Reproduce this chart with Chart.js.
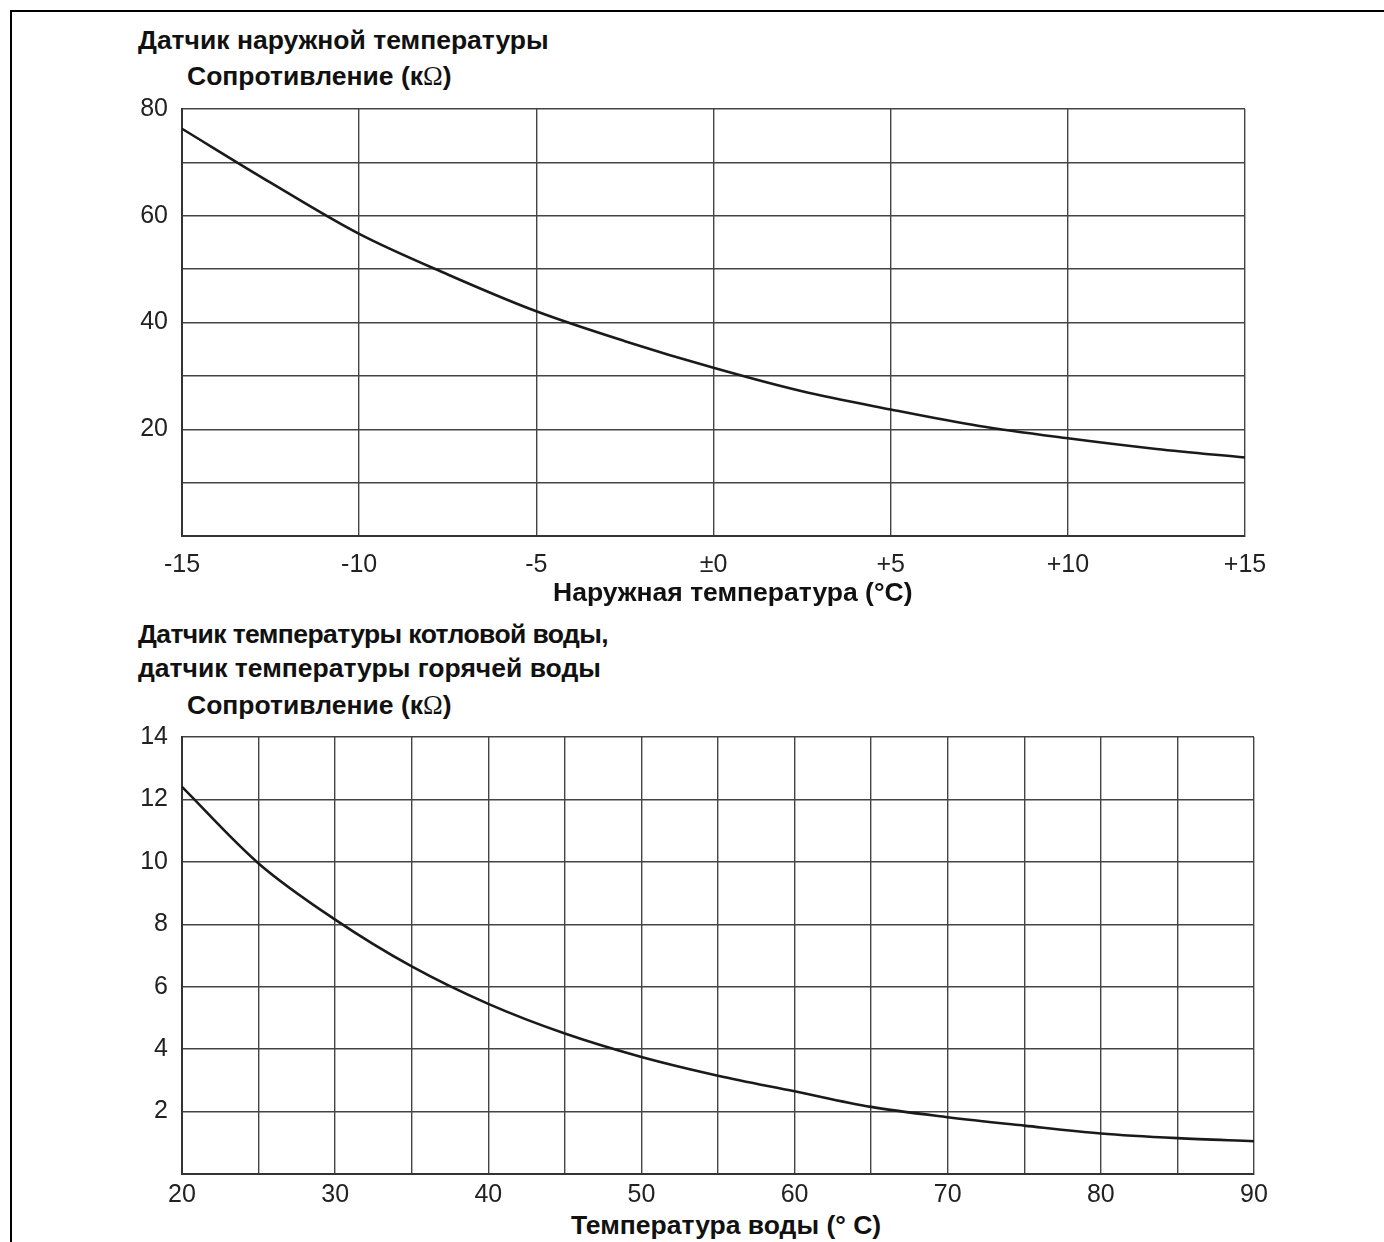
<!DOCTYPE html>
<html>
<head>
<meta charset="utf-8">
<script src="https://cdn.jsdelivr.net/npm/chart.js@4.4.0/dist/chart.umd.min.js"></script>
<style>
  html, body { margin: 0; padding: 0; background: #fff; }
  body { width: 1384px; height: 1242px; position: relative; overflow: hidden; font-family: "Liberation Sans", Arial, sans-serif; }
  .frame { position: absolute; left: 10px; top: 10px; right: -5px; bottom: -5px; border-left: 2px solid #000; border-top: 2px solid #000; }
  .t { position: absolute; white-space: nowrap; font-weight: bold; font-size: 26.5px; color: #111; line-height: 30px; }
  .om { font-family: "Liberation Serif", "Times New Roman", serif; font-weight: normal; }
  .box { position: absolute; left: 0; width: 1384px; }
</style>
</head>
<body>
<div class="frame"></div>
<div class="t" style="left:138px; top:25px;">Датчик наружной температуры</div>
<div class="t" style="left:187px; top:61px;">Сопротивление (к<span class="om">Ω</span>)</div>
<div class="box" style="top:80px; height:500px;"><canvas id="c1"></canvas></div>
<div class="t" style="left:553px; top:577px;">Наружная температура (°C)</div>

<div class="t" style="left:138px; top:619px; letter-spacing:-0.6px;">Датчик температуры котловой воды,</div>
<div class="t" style="left:138px; top:653px;">датчик температуры горячей воды</div>
<div class="t" style="left:187px; top:690px;">Сопротивление (к<span class="om">Ω</span>)</div>
<div class="box" style="top:708px; height:500px;"><canvas id="c2"></canvas></div>
<div class="t" style="left:571px; top:1210px;">Температура воды (° C)</div>

<script>
// ---- Data: outdoor temperature sensor ----
const outdoorTemps = [-15, -12.5, -10, -7.5, -5, -2.5, 0, 2.5, 5, 7.5, 10, 12.5, 15];
const outdoorRes   = [76.3, 66.2, 56.6, 49.0, 42.1, 36.5, 31.5, 27.1, 23.7, 20.6, 18.3, 16.3, 14.7];
const outdoorXTicks = [-15, -10, -5, 0, 5, 10, 15];
const outdoorXTickLabels = ['-15', '-10', '-5', '±0', '+5', '+10', '+15'];
const outdoorYTickLabels = [20, 40, 60, 80];

// ---- Data: boiler water / hot water sensor ----
const waterTemps = [20, 25, 30, 35, 40, 45, 50, 55, 60, 65, 70, 75, 80, 85, 90];
const waterRes   = [12.4, 9.95, 8.15, 6.65, 5.45, 4.5, 3.75, 3.15, 2.65, 2.15, 1.82, 1.55, 1.3, 1.15, 1.05];
const waterXTickLabels = [20, 30, 40, 50, 60, 70, 80, 90];
const waterYTickLabels = [2, 4, 6, 8, 10, 12, 14];

const FONT = "'Liberation Sans', Arial, sans-serif";
const GRID = '#444';

function makeChart(id, xs, ys, cfg) {
  const data = xs.map((x, i) => ({ x: x, y: ys[i] }));
  return new Chart(document.getElementById(id), {
    type: 'line',
    data: { datasets: [{ data: data, borderColor: '#1a1a1a', borderWidth: 2.6, pointRadius: 0, cubicInterpolationMode: 'monotone', fill: false, clip: false }] },
    options: {
      responsive: true, maintainAspectRatio: false, animation: false,
      layout: { padding: { top: cfg.padTop, right: cfg.padRight, bottom: 0, left: 0 } },
      plugins: { legend: { display: false }, tooltip: { enabled: false } },
      scales: {
        x: {
          type: 'linear', min: cfg.xMin, max: cfg.xMax,
          afterFit: s => { s.height = cfg.xAxisH; },
          afterBuildTicks: s => { const t = []; for (let v = cfg.xMin; v <= cfg.xMax + 1e-9; v += cfg.xStep) t.push({ value: v }); s.ticks = t; },
          grid: { color: GRID, lineWidth: 1.4, drawTicks: false },
          border: { color: '#333', width: 2 },
          ticks: { autoSkip: false, maxRotation: 0, padding: cfg.xTickPad, color: '#222', font: { family: FONT, size: 25 }, callback: cfg.xLabel }
        },
        y: {
          min: cfg.yMin, max: cfg.yMax,
          afterFit: s => { s.width = 182; },
          afterBuildTicks: s => { const t = []; for (let v = cfg.yMin; v <= cfg.yMax + 1e-9; v += cfg.yStep) t.push({ value: v }); s.ticks = t; },
          grid: { color: GRID, lineWidth: 1.4, drawTicks: false },
          border: { color: '#333', width: 2 },
          ticks: { autoSkip: false, padding: 14, color: '#222', font: { family: FONT, size: 25 }, callback: cfg.yLabel }
        }
      }
    }
  });
}

makeChart('c1', outdoorTemps, outdoorRes, {
  padTop: 19, padRight: 139, xAxisH: 44, xTickPad: 14,
  xMin: -15, xMax: 15, xStep: 5, yMin: 0, yMax: 80, yStep: 10,
  xLabel: v => { const i = outdoorXTicks.indexOf(v); return i >= 0 ? outdoorXTickLabels[i] : ''; },
  yLabel: v => outdoorYTickLabels.includes(v) ? String(v) : ''
});

makeChart('c2', waterTemps, waterRes, {
  padTop: 24, padRight: 130, xAxisH: 34, xTickPad: 6,
  xMin: 20, xMax: 90, xStep: 5, yMin: 0, yMax: 14, yStep: 2,
  xLabel: v => waterXTickLabels.includes(v) ? String(v) : '',
  yLabel: v => waterYTickLabels.includes(v) ? String(v) : ''
});
</script>
</body>
</html>
